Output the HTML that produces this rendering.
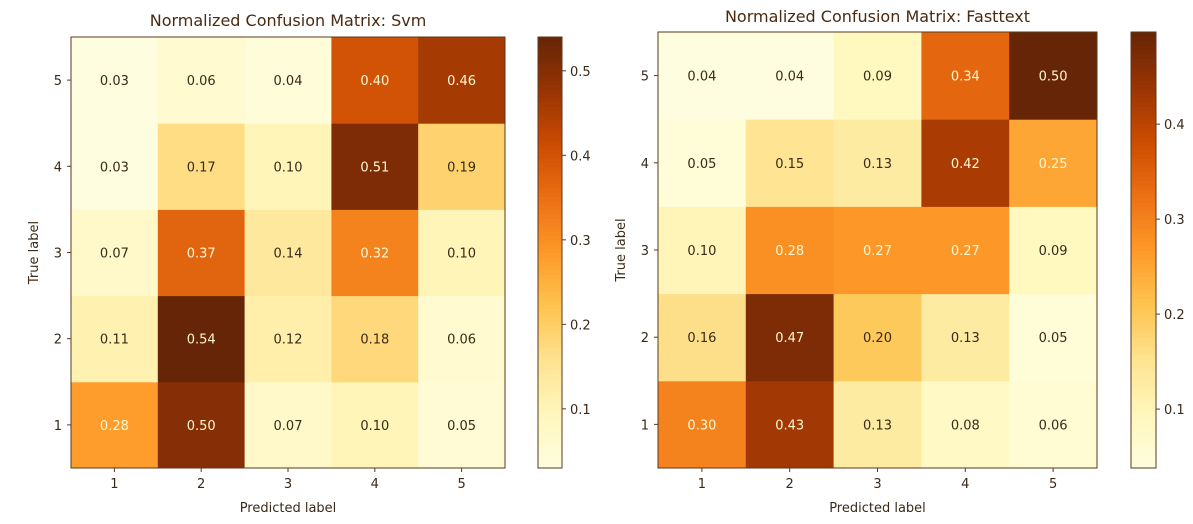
<!DOCTYPE html>
<html><head><meta charset="utf-8">
<style>
body{margin:0;background:#fff;}
svg text{font-family:"DejaVu Sans","Liberation Sans",sans-serif;}
</style></head>
<body>
<svg id="chart" width="1193" height="519" xmlns="http://www.w3.org/2000/svg"></svg>
<script>
const classLabels = ["1","2","3","4","5"];
// rows: true label 1..5, columns: predicted 1..5
const svmValues = [
  [0.28,0.50,0.07,0.10,0.05],
  [0.11,0.54,0.12,0.18,0.06],
  [0.07,0.37,0.14,0.32,0.10],
  [0.03,0.17,0.10,0.51,0.19],
  [0.03,0.06,0.04,0.40,0.46]
];
const fasttextValues = [
  [0.30,0.43,0.13,0.08,0.06],
  [0.16,0.47,0.20,0.13,0.05],
  [0.10,0.28,0.27,0.27,0.09],
  [0.05,0.15,0.13,0.42,0.25],
  [0.04,0.04,0.09,0.34,0.50]
];
const svmTicks = [0.1,0.2,0.3,0.4,0.5];
const fasttextTicks = [0.1,0.2,0.3,0.4];
const titles = ["Normalized Confusion Matrix: Svm","Normalized Confusion Matrix: Fasttext"];

const NS="http://www.w3.org/2000/svg";
const svg=document.getElementById('chart');
const stops=["#fffde0","#fff7bc","#fee391","#fec44f","#fe9929","#ec7014","#cc4c02","#993404","#662506"];
function hex(h){return [1,3,5].map(i=>parseInt(h.substr(i,2),16));}
function cmap(t){t=Math.max(0,Math.min(1,t));const p=t*(stops.length-1);const i=Math.min(stops.length-2,Math.floor(p));const f=p-i;const a=hex(stops[i]),b=hex(stops[i+1]);return `rgb(${a.map((v,k)=>Math.round(v+(b[k]-v)*f)).join(',')})`;}
function mk(tag,attrs,parent){const e=document.createElementNS(NS,tag);for(const k in attrs)e.setAttribute(k,attrs[k]);(parent||svg).appendChild(e);return e;}
const axCol="#5a3a1e";

function drawPanel(cfg){
  const g=mk('g',{});
  
  
  const n=classLabels.length;
  const cw=(cfg.x1-cfg.x0)/n, ch=(cfg.y1-cfg.y0)/n;
  const norm=v=>(v-cfg.vmin)/(cfg.vmax-cfg.vmin);
  cfg.values.forEach((row,r)=>{row.forEach((v,c)=>{
    const x=cfg.x0+c*cw, y=cfg.y1-(r+1)*ch;
    const rect=mk('rect',{x:x,y:y,width:cw+0.5,height:ch+0.5,fill:cmap(norm(v))},g);
    
    
    const t=mk('text',{x:x+cw/2,y:y+ch/2+5,'text-anchor':'middle','font-size':13,fill:v>=cfg.thr?'#fff7d0':'#3a2a1a'},g);
    t.textContent=v.toFixed(2);
    
    
  });});
  mk('rect',{x:cfg.x0,y:cfg.y0,width:cfg.x1-cfg.x0,height:cfg.y1-cfg.y0,fill:'none',stroke:axCol,'stroke-width':1},g);
  classLabels.forEach((lab,i)=>{
    const cx=cfg.x0+(i+0.5)*cw;
    mk('line',{x1:cx,x2:cx,y1:cfg.y1,y2:cfg.y1+4,stroke:axCol},g);
    const t=mk('text',{x:cx,y:cfg.y1+20,'text-anchor':'middle','font-size':13,fill:'#3a2a1a'},g);
    t.textContent=lab;
    
    
    const cy=cfg.y1-(i+0.5)*ch;
    mk('line',{x1:cfg.x0-4,x2:cfg.x0,y1:cy,y2:cy,stroke:axCol},g);
    const t2=mk('text',{x:cfg.x0-9,y:cy+5,'text-anchor':'end','font-size':13,fill:'#3a2a1a'},g);
    t2.textContent=lab;
    
    
  });
  const tt=mk('text',{x:(cfg.x0+cfg.x1)/2,y:cfg.titleY,'text-anchor':'middle','font-size':16,fill:'#4a2a10'},g);
  tt.textContent=cfg.title;
  
  
  const xl=mk('text',{x:(cfg.x0+cfg.x1)/2,y:cfg.y1+44,'text-anchor':'middle','font-size':13,fill:'#3a2a1a'},g);
  xl.textContent='Predicted label';
  
  
  const ym=(cfg.y0+cfg.y1)/2;
  const yl=mk('text',{x:cfg.x0-33,y:ym,'text-anchor':'middle','font-size':13,fill:'#3a2a1a',transform:`rotate(-90 ${cfg.x0-33} ${ym})`},g);
  yl.textContent='True label';
  
  
  // colorbar
  const cb=mk('g',{},g);
  
  
  const steps=100,h=(cfg.y1-cfg.cbTop);
  for(let i=0;i<steps;i++){
    mk('rect',{x:cfg.cbX,y:cfg.y1-(i+1)*h/steps,width:cfg.cbW,height:h/steps+0.6,fill:cmap((i+0.5)/steps)},cb);
  }
  mk('rect',{x:cfg.cbX,y:cfg.cbTop,width:cfg.cbW,height:h,fill:'none',stroke:axCol},cb);
  const vy=v=>cfg.y1-(v-cfg.vmin)/(cfg.vmax-cfg.vmin)*h;
  cfg.ticks.forEach(v=>{
    const y=vy(v);
    mk('line',{x1:cfg.cbX+cfg.cbW,x2:cfg.cbX+cfg.cbW+4,y1:y,y2:y,stroke:axCol},cb);
    const t=mk('text',{x:cfg.cbX+cfg.cbW+8,y:y+5,'font-size':13,fill:'#3a2a1a'},cb);
    t.textContent=v.toFixed(1);
    
    
  });
}
drawPanel({name:'svm-matrix',values:svmValues,title:titles[0],x0:71,x1:505,y0:37,y1:468,titleY:26,vmin:0.03,vmax:0.54,thr:0.25,cbX:538,cbW:24,cbTop:37,ticks:svmTicks});
drawPanel({name:'fasttext-matrix',values:fasttextValues,title:titles[1],x0:658,x1:1097,y0:32,y1:468,titleY:22,vmin:0.038,vmax:0.497,thr:0.22,cbX:1131,cbW:25,cbTop:32,ticks:fasttextTicks});
</script>
</body></html>
